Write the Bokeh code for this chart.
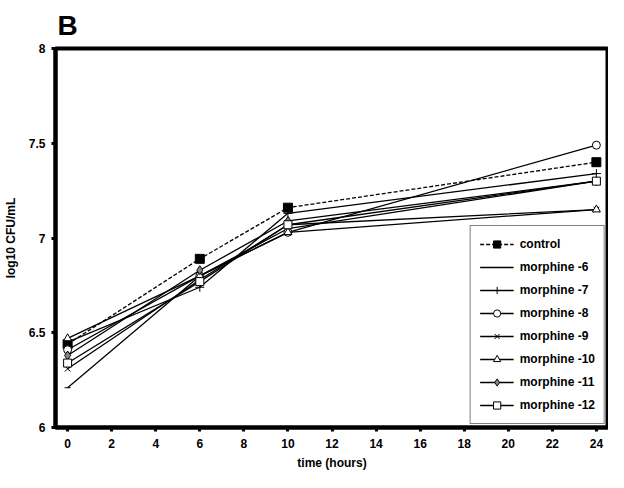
from bokeh.plotting import figure
from bokeh.models import Legend, LegendItem, FixedTicker
from bokeh.embed import file_html
from bokeh.resources import INLINE

hours = [0, 6, 10, 24]
control = [6.44, 6.89, 7.16, 7.40]
morphine_6 = [6.21, 6.80, 7.05, 7.30]
morphine_7 = [6.45, 6.74, 7.13, 7.34]
morphine_8 = [6.41, 6.80, 7.03, 7.49]
morphine_9 = [6.31, 6.78, 7.07, 7.15]
morphine_10 = [6.47, 6.80, 7.03, 7.15]
morphine_11 = [6.38, 6.83, 7.09, 7.30]
morphine_12 = [6.34, 6.77, 7.07, 7.30]

x_ticks = list(range(0, 25, 2))
y_ticks = [6, 6.5, 7, 7.5, 8]
y_tick_labels = {6: "6", 6.5: "6.5", 7: "7", 7.5: "7.5", 8: "8"}

FONT = "Liberation Sans"

p = figure(width=608, height=472, x_range=(-0.55, 24.55), y_range=(6, 8),
           output_backend="svg", toolbar_location=None,
           min_border_left=55, min_border_right=0, min_border_top=48, min_border_bottom=42)
p.xgrid.visible = False
p.ygrid.visible = False
p.outline_line_color = "black"
p.outline_line_width = 4
p.background_fill_color = "white"

p.title.text = "B"
p.title.text_font = FONT
p.title.text_font_style = "bold"
p.title.text_font_size = "28px"
p.title.text_color = "black"
p.title.align = "left"
p.title.offset = 2
p.title.standoff = 15

for ax in (p.xaxis[0], p.yaxis[0]):
    ax.axis_line_width = 4
    ax.axis_line_color = "black"
    ax.major_tick_line_width = 3
    ax.major_tick_line_color = "black"
    ax.major_tick_in = 0
    ax.major_tick_out = 4
    ax.minor_tick_line_color = None
    ax.major_label_text_font = FONT
    ax.major_label_text_font_style = "bold"
    ax.major_label_text_font_size = "12px"
    ax.major_label_text_color = "black"
    ax.axis_label_text_font = FONT
    ax.axis_label_text_font_style = "bold"
    ax.axis_label_text_font_size = "12px"
    ax.axis_label_text_color = "black"

p.xaxis.ticker = FixedTicker(ticks=x_ticks)
p.yaxis.ticker = FixedTicker(ticks=y_ticks)
p.yaxis.major_label_overrides = y_tick_labels
p.xaxis.axis_label = "time (hours)"
p.yaxis.axis_label = "log10 CFU/mL"
p.xaxis.major_label_standoff = 7
p.xaxis.axis_label_standoff = 5
p.yaxis.major_label_standoff = 6
p.yaxis.axis_label_standoff = 8

series = [
    ("control", control, "4 2", "square", 9, "black"),
    ("morphine -6", morphine_6, "solid", "dash", 6, "black"),
    ("morphine -7", morphine_7, "solid", "cross", 9, "white"),
    ("morphine -8", morphine_8, "solid", "circle", 8, "white"),
    ("morphine -9", morphine_9, "solid", "x", 8, "white"),
    ("morphine -10", morphine_10, "solid", "triangle", 8, "white"),
    ("morphine -11", morphine_11, "solid", "diamond", 9, "#888888"),
    ("morphine -12", morphine_12, "solid", "square", 8, "white"),
]

items = []
for name, ys, dash, marker, size, fill in series:
    r1 = p.line(hours, ys, line_color="black", line_width=1.3, line_dash=dash)
    r2 = p.scatter(hours, ys, marker=marker, size=size, line_color="black",
                   fill_color=fill, line_width=1)
    items.append(LegendItem(label=name, renderers=[r1, r2]))

legend = Legend(items=items, location="bottom_right")
legend.label_text_font = FONT
legend.label_text_font_style = "bold"
legend.label_text_font_size = "12px"
legend.label_text_color = "black"
legend.border_line_color = "black"
legend.border_line_width = 1
legend.glyph_width = 34
legend.glyph_height = 18
legend.spacing = 5
legend.padding = 9
legend.margin = 3
legend.label_standoff = 6
legend.label_height = 18
p.add_layout(legend)

open("out.html", "w").write(file_html(p, INLINE))
